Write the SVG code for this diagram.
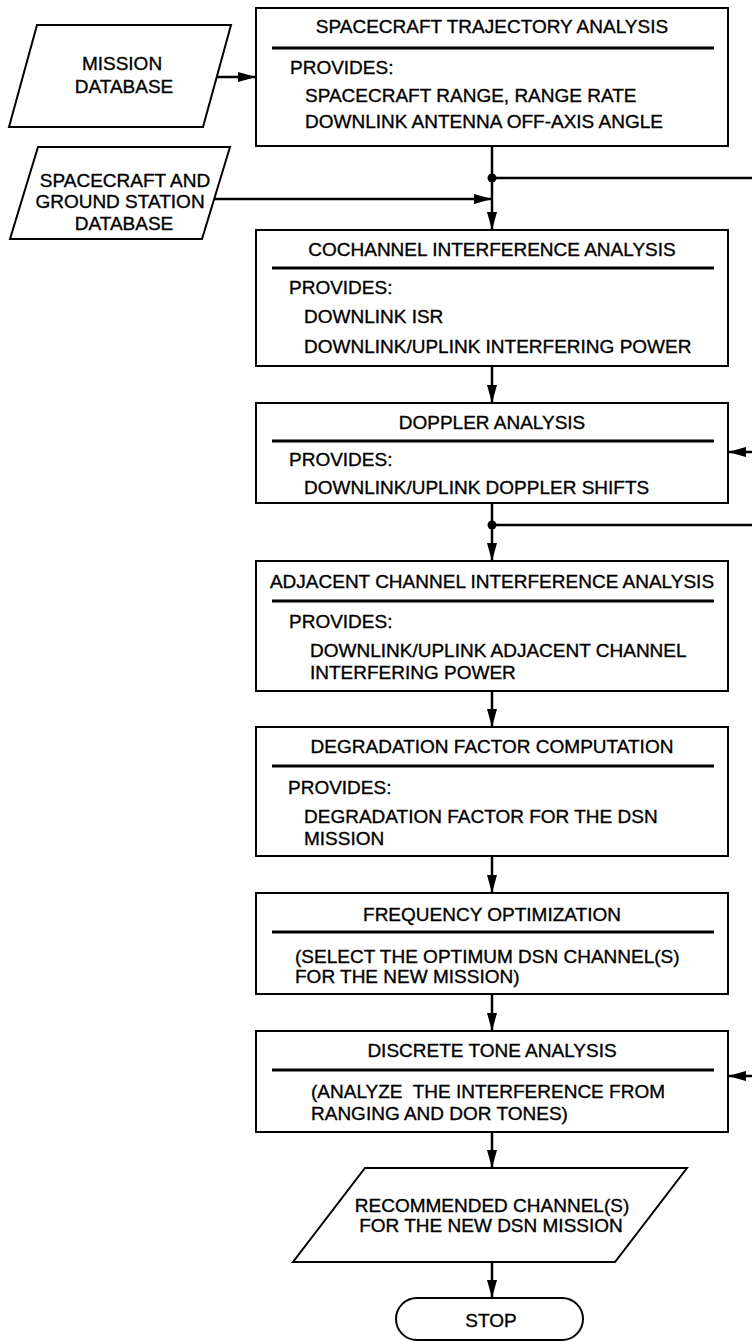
<svg xmlns="http://www.w3.org/2000/svg" width="752" height="1341" viewBox="0 0 752 1341">
<style>
text{font-family:"Liberation Sans",Arial,sans-serif;font-size:19px;fill:#000;stroke:#000;stroke-width:0.35}
.c{text-anchor:middle}
.box{fill:#fff;stroke:#000;stroke-width:2}
.sep{stroke:#000;stroke-width:3}
.ln{stroke:#000;stroke-width:2.5;fill:none}
.pre{white-space:pre}
</style>
<defs>
<marker id="ah" viewBox="0 0 18 10" refX="18" refY="5" markerWidth="18" markerHeight="10" markerUnits="userSpaceOnUse" orient="auto">
<path d="M0,0 L18,5 L0,10 Z" fill="#000"/>
</marker>
</defs>
<rect width="752" height="1341" fill="#fff"/>

<g id="connectors">
<line class="ln" x1="217" y1="77" x2="256" y2="77" marker-end="url(#ah)"/>
<line class="ln" x1="492" y1="146" x2="492" y2="230" marker-end="url(#ah)"/>
<line class="ln" x1="492" y1="178" x2="752" y2="178"/>
<circle cx="492" cy="178" r="4.5" fill="#000"/>
<line class="ln" x1="214" y1="199" x2="492" y2="199" marker-end="url(#ah)"/>
<line class="ln" x1="492" y1="366" x2="492" y2="403" marker-end="url(#ah)"/>
<line class="ln" x1="752" y1="452" x2="728" y2="452" marker-end="url(#ah)"/>
<line class="ln" x1="492" y1="503" x2="492" y2="561" marker-end="url(#ah)"/>
<line class="ln" x1="492" y1="525" x2="752" y2="525"/>
<circle cx="492" cy="525" r="4.5" fill="#000"/>
<line class="ln" x1="492" y1="691" x2="492" y2="727" marker-end="url(#ah)"/>
<line class="ln" x1="492" y1="856" x2="492" y2="893" marker-end="url(#ah)"/>
<line class="ln" x1="492" y1="994" x2="492" y2="1031" marker-end="url(#ah)"/>
<line class="ln" x1="752" y1="1076" x2="728" y2="1076" marker-end="url(#ah)"/>
<line class="ln" x1="492" y1="1132" x2="492" y2="1168" marker-end="url(#ah)"/>
<line class="ln" x1="492" y1="1262" x2="492" y2="1298" marker-end="url(#ah)"/>
</g>

<g id="mission-db">
<polygon class="box" points="37,25 231,25 203,127 9,127"/>
<text class="c" x="122" y="70">MISSION</text>
<text class="c" x="124" y="93">DATABASE</text>
</g>

<g id="sc-gs-db">
<polygon class="box" points="38,147 230,147 202,239 10,239"/>
<text class="c" x="125" y="187">SPACECRAFT AND</text>
<text class="c" x="120" y="208">GROUND STATION</text>
<text class="c" x="124" y="230">DATABASE</text>
</g>

<g id="trajectory">
<rect class="box" x="256" y="8" width="472" height="138"/>
<text class="c" x="492" y="33">SPACECRAFT TRAJECTORY ANALYSIS</text>
<line class="sep" x1="272" y1="48" x2="714" y2="48"/>
<text x="290" y="74">PROVIDES:</text>
<text x="305" y="102">SPACECRAFT RANGE, RANGE RATE</text>
<text x="305" y="128">DOWNLINK ANTENNA OFF-AXIS ANGLE</text>
</g>

<g id="cochannel">
<rect class="box" x="256" y="230" width="472" height="136"/>
<text class="c" x="492" y="256">COCHANNEL INTERFERENCE ANALYSIS</text>
<line class="sep" x1="272" y1="268" x2="714" y2="268"/>
<text x="289" y="294">PROVIDES:</text>
<text x="304" y="323">DOWNLINK ISR</text>
<text x="304" y="353">DOWNLINK/UPLINK INTERFERING POWER</text>
</g>

<g id="doppler">
<rect class="box" x="256" y="403" width="472" height="100"/>
<text class="c" x="492" y="429">DOPPLER ANALYSIS</text>
<line class="sep" x1="272" y1="441" x2="714" y2="441"/>
<text x="289" y="466">PROVIDES:</text>
<text x="304" y="494">DOWNLINK/UPLINK DOPPLER SHIFTS</text>
</g>

<g id="adjacent">
<rect class="box" x="256" y="561" width="472" height="130"/>
<text class="c" x="492" y="588">ADJACENT CHANNEL INTERFERENCE ANALYSIS</text>
<line class="sep" x1="272" y1="601" x2="714" y2="601"/>
<text x="289" y="628">PROVIDES:</text>
<text x="310" y="657">DOWNLINK/UPLINK ADJACENT CHANNEL</text>
<text x="310" y="679">INTERFERING POWER</text>
</g>

<g id="degradation">
<rect class="box" x="256" y="727" width="472" height="129"/>
<text class="c" x="492" y="753">DEGRADATION FACTOR COMPUTATION</text>
<line class="sep" x1="272" y1="766" x2="714" y2="766"/>
<text x="288" y="794">PROVIDES:</text>
<text x="304" y="823">DEGRADATION FACTOR FOR THE DSN</text>
<text x="304" y="845">MISSION</text>
</g>

<g id="frequency">
<rect class="box" x="256" y="893" width="472" height="101"/>
<text class="c" x="492" y="921">FREQUENCY OPTIMIZATION</text>
<line class="sep" x1="272" y1="932" x2="714" y2="932"/>
<text x="295" y="963">(SELECT THE OPTIMUM DSN CHANNEL(S)</text>
<text x="295" y="983">FOR THE NEW MISSION)</text>
</g>

<g id="discrete">
<rect class="box" x="256" y="1031" width="472" height="101"/>
<text class="c" x="492" y="1057">DISCRETE TONE ANALYSIS</text>
<line class="sep" x1="272" y1="1070" x2="714" y2="1070"/>
<text class="pre" x="311" y="1098">(ANALYZE  THE INTERFERENCE FROM</text>
<text x="311" y="1120">RANGING AND DOR TONES)</text>
</g>

<g id="recommended">
<polygon class="box" points="365,1168 687,1168 615,1262 293,1262"/>
<text class="c" x="492" y="1212">RECOMMENDED CHANNEL(S)</text>
<text class="c" x="491" y="1232">FOR THE NEW DSN MISSION</text>
</g>

<g id="stop">
<rect class="box" x="396" y="1298" width="187" height="42" rx="21" ry="21"/>
<text class="c" x="491" y="1327">STOP</text>
</g>
</svg>
